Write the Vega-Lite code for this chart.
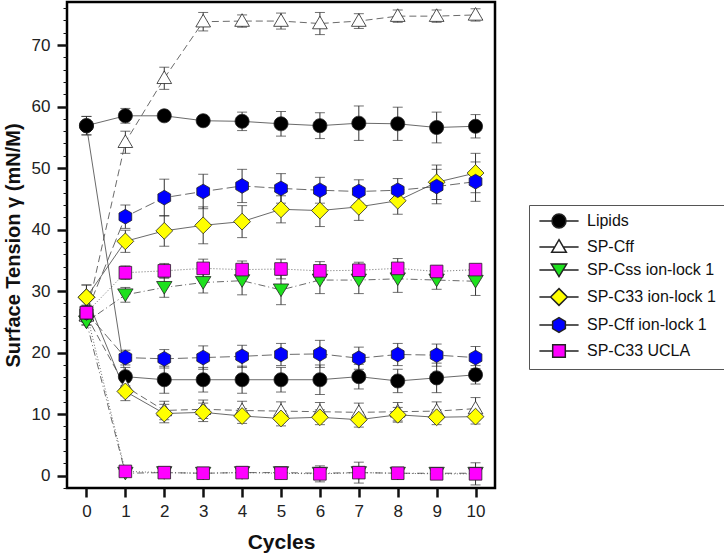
{
  "$schema": "https://vega.github.io/schema/vega-lite/v6.json",
  "width": 428,
  "height": 486,
  "autosize": "none",
  "padding": {"left": 67, "top": 2, "right": 229, "bottom": 70},
  "background": "white",
  "config": {
    "view": {"stroke": "black", "strokeWidth": 2.5},
    "font": "Liberation Sans",
    "axis": {"labelFont": "Liberation Sans", "titleFont": "Liberation Sans", "labelColor": "#222", "titleColor": "#111", "tickColor": "#111"},
    "legend": {"labelFont": "Liberation Sans"}
  },
  "data": {"values": [
    {"s":"Lipids","b":"max","c":0,"v":56.9,"e":1.5},{"s":"Lipids","b":"max","c":1,"v":58.5,"e":1.2},{"s":"Lipids","b":"max","c":2,"v":58.5,"e":0.8},{"s":"Lipids","b":"max","c":3,"v":57.7,"e":0.8},{"s":"Lipids","b":"max","c":4,"v":57.6,"e":1.5},{"s":"Lipids","b":"max","c":5,"v":57.2,"e":2.0},{"s":"Lipids","b":"max","c":6,"v":56.9,"e":2.1},{"s":"Lipids","b":"max","c":7,"v":57.3,"e":2.8},{"s":"Lipids","b":"max","c":8,"v":57.2,"e":2.7},{"s":"Lipids","b":"max","c":9,"v":56.6,"e":2.5},{"s":"Lipids","b":"max","c":10,"v":56.8,"e":1.9},
    {"s":"Lipids","b":"min","c":0,"v":56.9,"e":1.5},{"s":"Lipids","b":"min","c":1,"v":16.1,"e":1.5},{"s":"Lipids","b":"min","c":2,"v":15.6,"e":2.2},{"s":"Lipids","b":"min","c":3,"v":15.6,"e":2.0},{"s":"Lipids","b":"min","c":4,"v":15.6,"e":2.2},{"s":"Lipids","b":"min","c":5,"v":15.6,"e":2.0},{"s":"Lipids","b":"min","c":6,"v":15.6,"e":2.4},{"s":"Lipids","b":"min","c":7,"v":16.1,"e":2.0},{"s":"Lipids","b":"min","c":8,"v":15.4,"e":1.9},{"s":"Lipids","b":"min","c":9,"v":15.9,"e":2.4},{"s":"Lipids","b":"min","c":10,"v":16.4,"e":1.5},
    {"s":"SP-Cff","b":"max","c":0,"v":26.0,"e":1.0},{"s":"SP-Cff","b":"max","c":1,"v":54.2,"e":1.8},{"s":"SP-Cff","b":"max","c":2,"v":64.6,"e":1.8},{"s":"SP-Cff","b":"max","c":3,"v":73.8,"e":1.5},{"s":"SP-Cff","b":"max","c":4,"v":73.9,"e":1.0},{"s":"SP-Cff","b":"max","c":5,"v":73.9,"e":1.3},{"s":"SP-Cff","b":"max","c":6,"v":73.5,"e":1.8},{"s":"SP-Cff","b":"max","c":7,"v":73.9,"e":1.2},{"s":"SP-Cff","b":"max","c":8,"v":74.7,"e":1.0},{"s":"SP-Cff","b":"max","c":9,"v":74.7,"e":1.0},{"s":"SP-Cff","b":"max","c":10,"v":74.9,"e":1.0},
    {"s":"SP-Cff","b":"min","c":0,"v":26.0,"e":1.0},{"s":"SP-Cff","b":"min","c":1,"v":14.5,"e":1.5},{"s":"SP-Cff","b":"min","c":2,"v":10.6,"e":1.5},{"s":"SP-Cff","b":"min","c":3,"v":10.8,"e":1.5},{"s":"SP-Cff","b":"min","c":4,"v":10.6,"e":1.5},{"s":"SP-Cff","b":"min","c":5,"v":10.5,"e":1.5},{"s":"SP-Cff","b":"min","c":6,"v":10.4,"e":1.5},{"s":"SP-Cff","b":"min","c":7,"v":10.3,"e":1.5},{"s":"SP-Cff","b":"min","c":8,"v":10.4,"e":1.5},{"s":"SP-Cff","b":"min","c":9,"v":10.5,"e":1.5},{"s":"SP-Cff","b":"min","c":10,"v":10.9,"e":1.8},
    {"s":"SP-Css ion-lock 1","b":"max","c":0,"v":25.0,"e":0.5},{"s":"SP-Css ion-lock 1","b":"max","c":1,"v":29.4,"e":1.2},{"s":"SP-Css ion-lock 1","b":"max","c":2,"v":30.6,"e":1.6},{"s":"SP-Css ion-lock 1","b":"max","c":3,"v":31.4,"e":1.7},{"s":"SP-Css ion-lock 1","b":"max","c":4,"v":31.7,"e":2.3},{"s":"SP-Css ion-lock 1","b":"max","c":5,"v":30.2,"e":2.4},{"s":"SP-Css ion-lock 1","b":"max","c":6,"v":31.8,"e":2.2},{"s":"SP-Css ion-lock 1","b":"max","c":7,"v":31.8,"e":2.2},{"s":"SP-Css ion-lock 1","b":"max","c":8,"v":32.0,"e":2.2},{"s":"SP-Css ion-lock 1","b":"max","c":9,"v":31.8,"e":1.5},{"s":"SP-Css ion-lock 1","b":"max","c":10,"v":31.6,"e":2.3},
    {"s":"SP-Css ion-lock 1","b":"min","c":0,"v":25.0,"e":0.5},{"s":"SP-Css ion-lock 1","b":"min","c":1,"v":0.4,"e":0.5},{"s":"SP-Css ion-lock 1","b":"min","c":2,"v":0.5,"e":0.5},{"s":"SP-Css ion-lock 1","b":"min","c":3,"v":0.4,"e":0.5},{"s":"SP-Css ion-lock 1","b":"min","c":4,"v":0.5,"e":0.5},{"s":"SP-Css ion-lock 1","b":"min","c":5,"v":0.5,"e":0.6},{"s":"SP-Css ion-lock 1","b":"min","c":6,"v":0.4,"e":0.5},{"s":"SP-Css ion-lock 1","b":"min","c":7,"v":0.5,"e":0.5},{"s":"SP-Css ion-lock 1","b":"min","c":8,"v":0.4,"e":0.5},{"s":"SP-Css ion-lock 1","b":"min","c":9,"v":0.4,"e":0.5},{"s":"SP-Css ion-lock 1","b":"min","c":10,"v":0.4,"e":0.5},
    {"s":"SP-C33 ion-lock 1","b":"max","c":0,"v":29.0,"e":2.0},{"s":"SP-C33 ion-lock 1","b":"max","c":1,"v":38.1,"e":1.8},{"s":"SP-C33 ion-lock 1","b":"max","c":2,"v":39.8,"e":2.5},{"s":"SP-C33 ion-lock 1","b":"max","c":3,"v":40.7,"e":3.0},{"s":"SP-C33 ion-lock 1","b":"max","c":4,"v":41.3,"e":2.6},{"s":"SP-C33 ion-lock 1","b":"max","c":5,"v":43.3,"e":2.2},{"s":"SP-C33 ion-lock 1","b":"max","c":6,"v":43.1,"e":2.6},{"s":"SP-C33 ion-lock 1","b":"max","c":7,"v":43.7,"e":2.2},{"s":"SP-C33 ion-lock 1","b":"max","c":8,"v":44.7,"e":2.2},{"s":"SP-C33 ion-lock 1","b":"max","c":9,"v":47.7,"e":2.8},{"s":"SP-C33 ion-lock 1","b":"max","c":10,"v":49.2,"e":3.2},
    {"s":"SP-C33 ion-lock 1","b":"min","c":0,"v":29.0,"e":2.0},{"s":"SP-C33 ion-lock 1","b":"min","c":1,"v":13.7,"e":1.5},{"s":"SP-C33 ion-lock 1","b":"min","c":2,"v":10.1,"e":1.5},{"s":"SP-C33 ion-lock 1","b":"min","c":3,"v":10.3,"e":1.5},{"s":"SP-C33 ion-lock 1","b":"min","c":4,"v":9.7,"e":1.2},{"s":"SP-C33 ion-lock 1","b":"min","c":5,"v":9.3,"e":1.2},{"s":"SP-C33 ion-lock 1","b":"min","c":6,"v":9.5,"e":1.2},{"s":"SP-C33 ion-lock 1","b":"min","c":7,"v":9.1,"e":1.2},{"s":"SP-C33 ion-lock 1","b":"min","c":8,"v":9.9,"e":1.2},{"s":"SP-C33 ion-lock 1","b":"min","c":9,"v":9.5,"e":1.2},{"s":"SP-C33 ion-lock 1","b":"min","c":10,"v":9.6,"e":1.2},
    {"s":"SP-Cff ion-lock 1","b":"max","c":0,"v":26.5,"e":1.0},{"s":"SP-Cff ion-lock 1","b":"max","c":1,"v":42.1,"e":1.9},{"s":"SP-Cff ion-lock 1","b":"max","c":2,"v":45.2,"e":3.0},{"s":"SP-Cff ion-lock 1","b":"max","c":3,"v":46.2,"e":2.8},{"s":"SP-Cff ion-lock 1","b":"max","c":4,"v":47.1,"e":2.7},{"s":"SP-Cff ion-lock 1","b":"max","c":5,"v":46.7,"e":2.4},{"s":"SP-Cff ion-lock 1","b":"max","c":6,"v":46.4,"e":2.1},{"s":"SP-Cff ion-lock 1","b":"max","c":7,"v":46.2,"e":1.9},{"s":"SP-Cff ion-lock 1","b":"max","c":8,"v":46.4,"e":1.9},{"s":"SP-Cff ion-lock 1","b":"max","c":9,"v":47.0,"e":2.8},{"s":"SP-Cff ion-lock 1","b":"max","c":10,"v":47.8,"e":3.2},
    {"s":"SP-Cff ion-lock 1","b":"min","c":0,"v":26.5,"e":1.0},{"s":"SP-Cff ion-lock 1","b":"min","c":1,"v":19.2,"e":1.2},{"s":"SP-Cff ion-lock 1","b":"min","c":2,"v":19.0,"e":1.5},{"s":"SP-Cff ion-lock 1","b":"min","c":3,"v":19.2,"e":1.9},{"s":"SP-Cff ion-lock 1","b":"min","c":4,"v":19.4,"e":1.8},{"s":"SP-Cff ion-lock 1","b":"min","c":5,"v":19.7,"e":1.8},{"s":"SP-Cff ion-lock 1","b":"min","c":6,"v":19.8,"e":2.2},{"s":"SP-Cff ion-lock 1","b":"min","c":7,"v":19.1,"e":1.8},{"s":"SP-Cff ion-lock 1","b":"min","c":8,"v":19.7,"e":1.8},{"s":"SP-Cff ion-lock 1","b":"min","c":9,"v":19.6,"e":1.8},{"s":"SP-Cff ion-lock 1","b":"min","c":10,"v":19.2,"e":1.8},
    {"s":"SP-C33 UCLA","b":"max","c":0,"v":26.5,"e":1.2},{"s":"SP-C33 UCLA","b":"max","c":1,"v":33.0,"e":1.1},{"s":"SP-C33 UCLA","b":"max","c":2,"v":33.3,"e":1.2},{"s":"SP-C33 UCLA","b":"max","c":3,"v":33.7,"e":1.5},{"s":"SP-C33 UCLA","b":"max","c":4,"v":33.5,"e":1.4},{"s":"SP-C33 UCLA","b":"max","c":5,"v":33.6,"e":1.6},{"s":"SP-C33 UCLA","b":"max","c":6,"v":33.3,"e":1.5},{"s":"SP-C33 UCLA","b":"max","c":7,"v":33.4,"e":1.3},{"s":"SP-C33 UCLA","b":"max","c":8,"v":33.7,"e":1.6},{"s":"SP-C33 UCLA","b":"max","c":9,"v":33.2,"e":0.9},{"s":"SP-C33 UCLA","b":"max","c":10,"v":33.5,"e":0.9},
    {"s":"SP-C33 UCLA","b":"min","c":0,"v":26.5,"e":1.2},{"s":"SP-C33 UCLA","b":"min","c":1,"v":0.7,"e":0.3},{"s":"SP-C33 UCLA","b":"min","c":2,"v":0.5,"e":0.5},{"s":"SP-C33 UCLA","b":"min","c":3,"v":0.4,"e":0.3},{"s":"SP-C33 UCLA","b":"min","c":4,"v":0.5,"e":0.6},{"s":"SP-C33 UCLA","b":"min","c":5,"v":0.4,"e":0.5},{"s":"SP-C33 UCLA","b":"min","c":6,"v":0.3,"e":1.3},{"s":"SP-C33 UCLA","b":"min","c":7,"v":0.5,"e":1.7},{"s":"SP-C33 UCLA","b":"min","c":8,"v":0.4,"e":0.6},{"s":"SP-C33 UCLA","b":"min","c":9,"v":0.3,"e":0.5},{"s":"SP-C33 UCLA","b":"min","c":10,"v":0.3,"e":1.8}
  ]},
  "encoding": {
    "x": {"field": "c", "type": "quantitative",
      "scale": {"domain": [-0.5, 10.5], "nice": false, "zero": false},
      "axis": {"title": "Cycles", "values": [0,1,2,3,4,5,6,7,8,9,10], "tickSize": 9, "tickWidth": 2.5, "labelFontSize": 17, "labelPadding": 6, "titleFontSize": 21, "titleFontWeight": "bold", "titlePadding": 12, "domain": false, "grid": false, "labelAngle": 0}},
    "y": {"field": "v", "type": "quantitative",
      "scale": {"domain": [-2, 77], "nice": false, "zero": false},
      "axis": {"title": "Surface Tension γ (mN/M)",
        "values": [-2,0,2,4,6,8,10,12,14,16,18,20,22,24,26,28,30,32,34,36,38,40,42,44,46,48,50,52,54,56,58,60,62,64,66,68,70,72,74,76],
        "labelExpr": "datum.value % 10 === 0 ? datum.label : ''",
        "tickSize": {"condition": {"test": "datum.value % 10 === 0", "value": 10}, "value": 4},
        "tickWidth": {"condition": {"test": "datum.value % 10 === 0", "value": 2.5}, "value": 1},
        "labelOverlap": false, "domain": false, "grid": false,
        "labelFontSize": 17, "labelPadding": 7,
        "titleFontSize": 20, "titleFontWeight": "bold", "titlePadding": 8}}
  },
  "layer": [
    {"transform": [{"filter": "datum.s === 'Lipids'"}], "mark": {"type": "line", "color": "#444", "strokeWidth": 0.8}, "encoding": {"detail": {"field": "b", "type": "nominal"}}},
    {"transform": [{"filter": "datum.s === 'SP-Cff'"}], "mark": {"type": "line", "color": "#444", "strokeWidth": 0.8, "strokeDash": [7, 4]}, "encoding": {"detail": {"field": "b", "type": "nominal"}}},
    {"transform": [{"filter": "datum.s === 'SP-Css ion-lock 1'"}], "mark": {"type": "line", "color": "#444", "strokeWidth": 0.8, "strokeDash": [7, 3, 1, 3]}, "encoding": {"detail": {"field": "b", "type": "nominal"}}},
    {"transform": [{"filter": "datum.s === 'SP-C33 ion-lock 1'"}], "mark": {"type": "line", "color": "#444", "strokeWidth": 0.8}, "encoding": {"detail": {"field": "b", "type": "nominal"}}},
    {"transform": [{"filter": "datum.s === 'SP-Cff ion-lock 1'"}], "mark": {"type": "line", "color": "#444", "strokeWidth": 0.8, "strokeDash": [10, 4]}, "encoding": {"detail": {"field": "b", "type": "nominal"}}},
    {"transform": [{"filter": "datum.s === 'SP-C33 UCLA'"}], "mark": {"type": "line", "color": "#444", "strokeWidth": 0.8, "strokeDash": [1, 2]}, "encoding": {"detail": {"field": "b", "type": "nominal"}}},
    {
      "mark": {"type": "errorbar", "ticks": {"size": 10}, "color": "#333"},
      "encoding": {"yError": {"field": "e"}}
    },
    {
      "mark": {"type": "point", "filled": true, "size": 196, "stroke": "#222", "strokeWidth": 0.8, "opacity": 1},
      "encoding": {
        "fill": {"field": "s", "type": "nominal", "legend": null,
          "scale": {"domain": ["Lipids","SP-Cff","SP-Css ion-lock 1","SP-C33 ion-lock 1","SP-Cff ion-lock 1","SP-C33 UCLA"],
            "range": ["#000000","#ffffff","#1ee01e","#ffff00","#0000ff","#ff00ff"]}},
        "shape": {"field": "s", "type": "nominal", "legend": null,
          "scale": {"domain": ["Lipids","SP-Cff","SP-Css ion-lock 1","SP-C33 ion-lock 1","SP-Cff ion-lock 1","SP-C33 UCLA"],
            "range": [
              "M1,0A1,1,0,1,1,-1,0A1,1,0,1,1,1,0Z",
              "M0,-1.05L1.05,0.75L-1.05,0.75Z",
              "M0,0.95L1.1,-0.85L-1.1,-0.85Z",
              "M0,-1.2L1.2,0L0,1.2L-1.2,0Z",
              "M0,-1.05L0.91,-0.525L0.91,0.525L0,1.05L-0.91,0.525L-0.91,-0.525Z",
              "M-0.9,-0.9H0.9V0.9H-0.9Z"
            ]}}
      }
    },
    {
      "transform": [{"filter": "false"}],
      "mark": {"type": "point", "filled": true, "size": 196, "stroke": "#222", "strokeWidth": 0.9, "opacity": 1},
      "encoding": {
        "fill": {"field": "s", "type": "nominal",
          "scale": {"domain": ["Lipids","SP-Cff","SP-Css ion-lock 1","SP-C33 ion-lock 1","SP-Cff ion-lock 1","SP-C33 UCLA"],
            "range": ["#000000","#ffffff","#1ee01e","#ffff00","#0000ff","#ff00ff"]},
          "legend": {"title": null, "orient": "none", "legendX": 462, "legendY": 203, "strokeColor": "#555", "fillColor": "white", "padding": 8, "labelFontSize": 16, "labelColor": "#111", "symbolSize": 196, "labelOffset": 20, "symbolOffset": 14, "rowPadding": 5, "labelLimit": 300,
            "encode": {"symbols": {"update": {"stroke": {"value": "#222"}, "strokeWidth": {"value": 0.9}}}}}},
        "shape": {"field": "s", "type": "nominal",
          "scale": {"domain": ["Lipids","SP-Cff","SP-Css ion-lock 1","SP-C33 ion-lock 1","SP-Cff ion-lock 1","SP-C33 UCLA"],
            "range": [
              "M-2.8,0H-1M1,0H2.8M1,0A1,1,0,1,1,-1,0A1,1,0,1,1,1,0Z",
              "M-2.8,0H-0.6M0.6,0H2.8M0,-1.05L1.05,0.75L-1.05,0.75Z",
              "M-2.8,0H-0.6M0.6,0H2.8M0,0.95L1.1,-0.85L-1.1,-0.85Z",
              "M-2.8,0H-1.2M1.2,0H2.8M0,-1.2L1.2,0L0,1.2L-1.2,0Z",
              "M-2.8,0H-0.91M0.91,0H2.8M0,-1.05L0.91,-0.525L0.91,0.525L0,1.05L-0.91,0.525L-0.91,-0.525Z",
              "M-2.8,0H-0.9M0.9,0H2.8M-0.9,-0.9H0.9V0.9H-0.9Z"
            ]},
          "legend": {"title": null, "orient": "none", "legendX": 462, "legendY": 203, "strokeColor": "#555", "fillColor": "white", "padding": 8, "labelFontSize": 16, "labelColor": "#111", "symbolSize": 196, "labelOffset": 20, "symbolOffset": 14, "rowPadding": 5, "labelLimit": 300,
            "encode": {"symbols": {"update": {"stroke": {"value": "#222"}, "strokeWidth": {"value": 0.9}}}}}}
      }
    }
  ],
  "resolve": {"scale": {"shape": "independent", "fill": "independent"}, "legend": {"shape": "independent", "fill": "independent"}}
}
